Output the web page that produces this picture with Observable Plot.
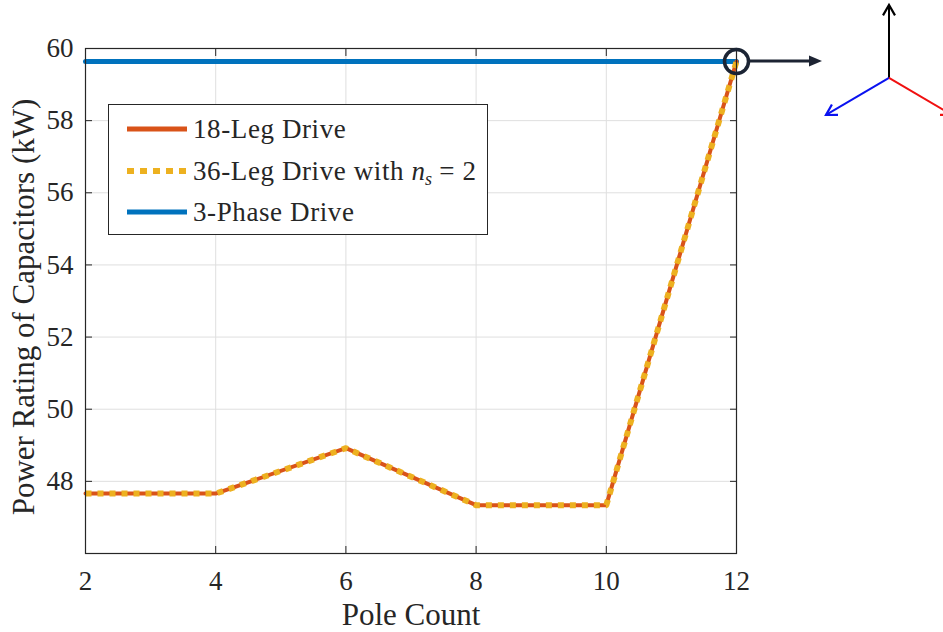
<!DOCTYPE html>
<html>
<head>
<meta charset="utf-8">
<script src="https://cdn.jsdelivr.net/npm/d3@7"></script>
<script src="https://cdn.jsdelivr.net/npm/@observablehq/plot@0.6"></script>
<style>
  html, body { margin: 0; padding: 0; background: #fff; }
  #chart { position: relative; width: 943px; height: 632px; overflow: hidden;
           font-family: "Liberation Serif", "DejaVu Serif", serif; color: #262626; }
  #chart > svg { position: absolute; left: 0; top: 0; }
  #chart .legend { position: absolute; left: 108px; top: 104px; width: 380px; height: 131px;
            box-sizing: border-box; border: 1.3px solid #262626; background: #fff; }
  #chart .legend .row { position: absolute; left: 0; height: 30px; display: flex; align-items: center; }
  #chart .legend .row svg { position: static; margin-left: 18px; flex: none; }
  #chart .legend .row span { margin-left: 6px; font-size: 27px; letter-spacing: 0.6px; white-space: nowrap; }
  #chart .legend i { letter-spacing: 0; }
  #chart .legend sub { font-size: 18px; vertical-align: -5px; line-height: 0; }
</style>
</head>
<body>
<div id="chart"></div>
<script>
// Capacitor power rating versus pole count for three drive topologies
const poles = [2, 4, 6, 8, 10, 12];
const leg18 = [47.66, 47.66, 48.92, 47.34, 47.34, 59.64];
const leg36 = [47.66, 47.66, 48.92, 47.34, 47.34, 59.64];
const threePhase = [59.64, 59.64, 59.64, 59.64, 59.64, 59.64];
const xTicks = [2, 4, 6, 8, 10, 12];
const yTicks = [48, 50, 52, 54, 56, 58, 60];

const seriesNames = ["18-Leg Drive", "36-Leg Drive with n_s = 2", "3-Phase Drive"];
const seriesColors = ["#D95319", "#EDB120", "#0072BD"];

const rows = poles.map((p, i) => ({pole: p, leg18: leg18[i], leg36: leg36[i], threePhase: threePhase[i]}));
const last = rows[rows.length - 1];

const axisColor = "#262626";
const gridColor = "#dfdfdf";

const chart = Plot.plot({
  width: 943,
  height: 632,
  marginLeft: 85,
  marginRight: 207,
  marginTop: 48,
  marginBottom: 79,
  style: {fontFamily: '"Liberation Serif", "DejaVu Serif", serif', fontSize: "27px", color: axisColor, background: "transparent", overflow: "visible"},
  x: {domain: [2, 12]},
  y: {domain: [46, 60]},
  marks: [
    Plot.gridX(xTicks, {stroke: gridColor, strokeOpacity: 1, strokeWidth: 1}),
    Plot.gridY(yTicks, {stroke: gridColor, strokeOpacity: 1, strokeWidth: 1}),
    Plot.line(rows, {x: "pole", y: "threePhase", stroke: seriesColors[2], strokeWidth: 5}),
    Plot.line(rows, {x: "pole", y: "leg18", stroke: seriesColors[0], strokeWidth: 4}),
    Plot.line(rows, {x: "pole", y: "leg36", stroke: seriesColors[1], strokeWidth: 6, strokeDasharray: "6,6", strokeLinecap: "butt"}),
    Plot.frame({stroke: axisColor, strokeWidth: 1.2}),
    Plot.axisX(xTicks, {anchor: "bottom", tickSize: -7, tickPadding: 24, label: null, stroke: axisColor, fontSize: 27}),
    Plot.axisX(xTicks, {anchor: "top", tickSize: -7, tickFormat: () => "", label: null, stroke: axisColor}),
    Plot.axisY(yTicks, {anchor: "left", tickSize: -7, tickPadding: 19, label: null, stroke: axisColor, fontSize: 27}),
    Plot.axisY(yTicks, {anchor: "right", tickSize: -7, tickFormat: () => "", label: null, stroke: axisColor}),
    Plot.text(["Pole Count"], {frameAnchor: "bottom", lineAnchor: "middle", dy: 62, fontSize: 31, fill: axisColor}),
    Plot.text(["Power Rating of Capacitors (kW)"], {frameAnchor: "left", textAnchor: "middle", lineAnchor: "middle", dx: -61, dy: 6, rotate: -90, fontSize: 31, fill: axisColor}),
    // highlighted end point of the 3-phase curve
    Plot.dot([last], {x: "pole", y: "threePhase", r: 12, fill: "none", stroke: "#1b2434", strokeWidth: 3.5})
  ]
});

document.getElementById("chart").appendChild(chart);

// callout arrow and reference-frame glyph beside the highlighted point
const svg = d3.select(chart);
const cx = chart.scale("x").apply(last.pole);
const cy = chart.scale("y").apply(last.threePhase);
const g = svg.append("g");
g.append("line").attr("x1", cx + 13).attr("y1", cy).attr("x2", cx + 75).attr("y2", cy)
  .attr("stroke", "#1d2433").attr("stroke-width", 3);
g.append("path").attr("d", `M${cx + 86},${cy} L${cx + 73},${cy - 5.5} L${cx + 73},${cy + 5.5} Z`)
  .attr("fill", "#1d2433");

const ox = cx + 153, oy = cy + 17;
const axesGlyph = [
  {dx: 0, dy: -73, color: "#000"},
  {dx: -63, dy: 37, color: "#0a12f0"},
  {dx: 63, dy: 37, color: "#f01010"}
];
axesGlyph.forEach(a => {
  const tx = ox + a.dx, ty = oy + a.dy;
  const ang = Math.atan2(a.dy, a.dx);
  const L = 12, spread = Math.PI / 6;
  g.append("line").attr("x1", ox).attr("y1", oy).attr("x2", tx).attr("y2", ty)
    .attr("stroke", a.color).attr("stroke-width", 2);
  const p1 = [tx - L * Math.cos(ang - spread), ty - L * Math.sin(ang - spread)];
  const p2 = [tx - L * Math.cos(ang + spread), ty - L * Math.sin(ang + spread)];
  g.append("path").attr("d", `M${p1[0]},${p1[1]} L${tx},${ty} L${p2[0]},${p2[1]}`)
    .attr("fill", "none").attr("stroke", a.color).attr("stroke-width", 2.2);
});

// legend
const legend = d3.select("#chart").append("div").attr("class", "legend");
const rowTops = [9, 51, 92];
seriesNames.forEach((name, i) => {
  const row = legend.append("div").attr("class", "row").style("top", rowTops[i] + "px");
  const sw = row.append("svg").attr("width", 60).attr("height", 10);
  const ln = sw.append("line").attr("x1", 0).attr("x2", 60).attr("y1", 5).attr("y2", 5)
    .attr("stroke", seriesColors[i]).attr("stroke-width", i === 1 ? 6 : 5);
  if (i === 1) ln.attr("stroke-dasharray", "7,6");
  const span = row.append("span");
  if (name.includes("n_s")) {
    span.html(name.replace("n_s", "<i>n</i><sub><i>s</i></sub>"));
  } else {
    span.text(name);
  }
});
</script>
</body>
</html>
